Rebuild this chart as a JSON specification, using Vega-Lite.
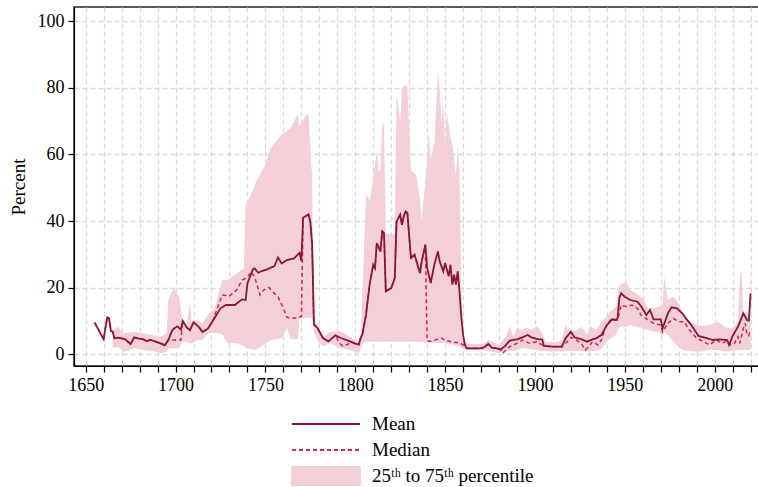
{
  "$schema": "https://vega.github.io/schema/vega-lite/v6.json",
  "width": 685,
  "height": 359,
  "autosize": {"type": "none"},
  "padding": {"left": 74, "top": 7, "right": 0, "bottom": 121},
  "background": "white",
  "config": {
    "font": "Liberation Serif",
    "view": {"stroke": "#222", "strokeWidth": 1.5},
    "axis": {
      "domainColor": "#000", "domainWidth": 1.2,
      "tickColor": "#000", "tickWidth": 1.2, "tickSize": 6,
      "labelFont": "Liberation Serif", "labelFontSize": 18, "labelColor": "#000",
      "titleFont": "Liberation Serif", "titleFontSize": 19, "titleFontWeight": "normal", "titleColor": "#000",
      "gridColor": "#d9d9d9", "gridDash": [5, 3], "gridWidth": 1.3
    },
    "legend": {
      "orient": "none", "legendX": 217, "legendY": 404,
      "title": null, "padding": 0,
      "symbolType": "stroke", "symbolSize": 4624, "symbolStrokeWidth": 1.8,
      "labelFont": "Liberation Serif", "labelFontSize": 19, "labelColor": "#000",
      "labelOffset": 11, "labelLimit": 0, "rowPadding": 0, "clipHeight": 26
    }
  },
  "datasets": {
    "band": [
      {"yr":1665,"lo":1.8,"hi":7.3},{"yr":1668,"lo":2.3,"hi":8.3},{"yr":1671,"lo":0.8,"hi":6.3},{"yr":1674,"lo":1.2,"hi":6.5},
      {"yr":1677,"lo":1.8,"hi":6.8},{"yr":1682,"lo":1.3,"hi":6.3},{"yr":1687,"lo":1.0,"hi":5.8},{"yr":1692,"lo":0.3,"hi":5.3},
      {"yr":1695,"lo":0.8,"hi":6.3},{"yr":1696,"lo":1.8,"hi":16.3},{"yr":1699,"lo":1.8,"hi":20.1},{"yr":1701,"lo":1.8,"hi":18},
      {"yr":1702,"lo":1.8,"hi":17.3},{"yr":1704,"lo":3.8,"hi":9.3},{"yr":1706,"lo":3.8,"hi":8.3},{"yr":1708,"lo":3.3,"hi":15.8},
      {"yr":1709,"lo":3.3,"hi":9.3},{"yr":1712,"lo":4.3,"hi":10.3},{"yr":1715,"lo":4.3,"hi":9.3},{"yr":1718,"lo":6.3,"hi":11.8},
      {"yr":1722,"lo":6.5,"hi":14.3},{"yr":1726,"lo":6,"hi":22.3},{"yr":1729,"lo":3.3,"hi":22.3},{"yr":1734,"lo":3.3,"hi":24.3},
      {"yr":1738,"lo":2.5,"hi":25.8},{"yr":1739,"lo":2,"hi":45},{"yr":1742,"lo":1.5,"hi":48},{"yr":1745,"lo":1.3,"hi":52},
      {"yr":1748,"lo":2.5,"hi":55},{"yr":1750,"lo":3.3,"hi":57},{"yr":1753,"lo":4.3,"hi":62},{"yr":1756,"lo":4.5,"hi":64},
      {"yr":1759,"lo":4.8,"hi":66},{"yr":1762,"lo":8,"hi":67},{"yr":1764,"lo":4.5,"hi":68},{"yr":1766,"lo":4.5,"hi":70},
      {"yr":1768,"lo":4.5,"hi":72},{"yr":1769,"lo":11,"hi":68.3},{"yr":1772,"lo":11,"hi":71.4},{"yr":1774,"lo":11,"hi":72.4},
      {"yr":1775,"lo":11,"hi":62.3},{"yr":1776,"lo":11,"hi":53.3},{"yr":1777,"lo":6.8,"hi":10.8},{"yr":1779,"lo":4,"hi":8.8},
      {"yr":1782,"lo":2.3,"hi":5.3},{"yr":1786,"lo":3.3,"hi":6.8},{"yr":1792,"lo":1.8,"hi":6.9},{"yr":1797,"lo":1.3,"hi":5.3},
      {"yr":1802,"lo":0.3,"hi":3.8},{"yr":1803,"lo":1.5,"hi":6},{"yr":1804,"lo":3,"hi":18.3},{"yr":1806,"lo":3.8,"hi":48.3},
      {"yr":1808,"lo":3.8,"hi":46},{"yr":1809,"lo":3.8,"hi":49.3},{"yr":1812,"lo":3.8,"hi":61.3},{"yr":1813,"lo":3.8,"hi":55},
      {"yr":1814,"lo":3.8,"hi":55.3},{"yr":1815,"lo":3.8,"hi":68.3},{"yr":1816,"lo":3.8,"hi":69.8},{"yr":1817,"lo":3.8,"hi":36.3},
      {"yr":1822,"lo":3.8,"hi":36},{"yr":1823,"lo":3.8,"hi":78.4},{"yr":1825,"lo":3.8,"hi":69.6},{"yr":1826,"lo":3.8,"hi":79.9},
      {"yr":1828,"lo":3.8,"hi":80.9},{"yr":1829,"lo":3.8,"hi":80.4},{"yr":1831,"lo":3.8,"hi":55.3},{"yr":1834,"lo":3.8,"hi":53.8},
      {"yr":1836,"lo":3.8,"hi":46.3},{"yr":1837,"lo":3.8,"hi":40},{"yr":1839,"lo":3.5,"hi":52.3},{"yr":1841,"lo":3.5,"hi":66.4},
      {"yr":1842,"lo":3.5,"hi":58.3},{"yr":1844,"lo":3.5,"hi":63.4},{"yr":1845,"lo":3.5,"hi":73.4},{"yr":1846,"lo":3.5,"hi":85.4},
      {"yr":1847,"lo":3.5,"hi":79.4},{"yr":1848,"lo":3.5,"hi":69.4},{"yr":1849,"lo":3.5,"hi":75.4},{"yr":1850,"lo":3.5,"hi":62.4},
      {"yr":1851,"lo":3,"hi":72.4},{"yr":1853,"lo":3,"hi":65.4},{"yr":1854,"lo":3,"hi":63.4},{"yr":1856,"lo":2.5,"hi":53.3},
      {"yr":1857,"lo":2.5,"hi":62.4},{"yr":1858,"lo":2.5,"hi":55.3},{"yr":1859,"lo":2,"hi":20},{"yr":1860,"lo":1.5,"hi":6.3},
      {"yr":1862,"lo":1.3,"hi":3.1},{"yr":1871,"lo":1.3,"hi":3.1},{"yr":1874,"lo":1,"hi":4.3},{"yr":1880,"lo":0.3,"hi":2.8},
      {"yr":1884,"lo":1,"hi":5.5},{"yr":1886,"lo":1,"hi":8.5},{"yr":1888,"lo":1,"hi":5.3},{"yr":1890,"lo":1.2,"hi":7.8},
      {"yr":1893,"lo":1.8,"hi":7.3},{"yr":1895,"lo":1.8,"hi":8.1},{"yr":1898,"lo":1.5,"hi":7.3},{"yr":1901,"lo":1.3,"hi":8.5},
      {"yr":1904,"lo":1,"hi":6.3},{"yr":1906,"lo":1,"hi":3.8},{"yr":1912,"lo":0.8,"hi":3.6},{"yr":1915,"lo":1,"hi":4.3},
      {"yr":1917,"lo":1,"hi":8.8},{"yr":1919,"lo":1,"hi":6.8},{"yr":1923,"lo":1,"hi":7.3},{"yr":1926,"lo":1,"hi":8.3},
      {"yr":1929,"lo":1,"hi":5.8},{"yr":1931,"lo":1,"hi":8.5},{"yr":1934,"lo":1,"hi":7.3},{"yr":1937,"lo":1.5,"hi":9.8},
      {"yr":1940,"lo":3.8,"hi":11.3},{"yr":1942,"lo":4.8,"hi":12.8},{"yr":1945,"lo":5.8,"hi":14.3},{"yr":1947,"lo":8.3,"hi":20.8},
      {"yr":1951,"lo":8.3,"hi":21.8},{"yr":1953,"lo":8.8,"hi":19.3},{"yr":1956,"lo":8.3,"hi":18.3},{"yr":1960,"lo":7.8,"hi":16.8},
      {"yr":1963,"lo":7.3,"hi":13.8},{"yr":1966,"lo":6.8,"hi":13.8},{"yr":1969,"lo":6.8,"hi":14.3},{"yr":1971,"lo":5.3,"hi":14.8},
      {"yr":1972,"lo":6.8,"hi":23.3},{"yr":1974,"lo":5.8,"hi":16.3},{"yr":1977,"lo":3.8,"hi":17.3},{"yr":1980,"lo":2.3,"hi":15.3},
      {"yr":1982,"lo":1.3,"hi":12.3},{"yr":1986,"lo":1,"hi":9.8},{"yr":1992,"lo":0.8,"hi":8.5},{"yr":1997,"lo":1.3,"hi":8.8},
      {"yr":2002,"lo":1.3,"hi":9.8},{"yr":2006,"lo":0.8,"hi":8.1},{"yr":2010,"lo":1,"hi":7.8},{"yr":2013,"lo":1.3,"hi":10},
      {"yr":2014,"lo":1.3,"hi":23.3},{"yr":2015,"lo":1.3,"hi":25.3},{"yr":2016,"lo":1.3,"hi":11.3},{"yr":2018,"lo":1.3,"hi":13.3},
      {"yr":2019,"lo":1.3,"hi":8},{"yr":2020,"lo":1.3,"hi":28}
    ],
    "mean": [
      {"s":"Mean","yr":1655,"v":9.5},{"s":"Mean","yr":1657,"v":7.5},{"s":"Mean","yr":1660,"v":4.5},{"s":"Mean","yr":1661,"v":8},
      {"s":"Mean","yr":1662,"v":11.1},{"s":"Mean","yr":1663,"v":10.8},{"s":"Mean","yr":1664,"v":7},{"s":"Mean","yr":1665,"v":6.8},
      {"s":"Mean","yr":1666,"v":4.8},{"s":"Mean","yr":1668,"v":5},{"s":"Mean","yr":1670,"v":4.8},{"s":"Mean","yr":1672,"v":4.5},
      {"s":"Mean","yr":1675,"v":3.1},{"s":"Mean","yr":1677,"v":5.1},{"s":"Mean","yr":1679,"v":4.8},{"s":"Mean","yr":1682,"v":4.5},
      {"s":"Mean","yr":1684,"v":4},{"s":"Mean","yr":1686,"v":4.3},{"s":"Mean","yr":1688,"v":4},{"s":"Mean","yr":1690,"v":3.6},
      {"s":"Mean","yr":1692,"v":3.2},{"s":"Mean","yr":1694,"v":2.7},{"s":"Mean","yr":1696,"v":4.3},{"s":"Mean","yr":1698,"v":7},
      {"s":"Mean","yr":1699,"v":7.7},{"s":"Mean","yr":1701,"v":8.4},{"s":"Mean","yr":1703,"v":7.4},{"s":"Mean","yr":1704,"v":10},
      {"s":"Mean","yr":1706,"v":8.2},{"s":"Mean","yr":1708,"v":7.2},{"s":"Mean","yr":1710,"v":9.6},{"s":"Mean","yr":1713,"v":8.2},
      {"s":"Mean","yr":1715,"v":6.7},{"s":"Mean","yr":1718,"v":7.7},{"s":"Mean","yr":1721,"v":10.3},{"s":"Mean","yr":1723,"v":12},
      {"s":"Mean","yr":1725,"v":13.8},{"s":"Mean","yr":1728,"v":14.8},{"s":"Mean","yr":1733,"v":14.8},{"s":"Mean","yr":1737,"v":16.5},
      {"s":"Mean","yr":1739,"v":16.3},{"s":"Mean","yr":1740,"v":21.3},{"s":"Mean","yr":1743,"v":25.5},{"s":"Mean","yr":1744,"v":25.8},
      {"s":"Mean","yr":1746,"v":24.5},{"s":"Mean","yr":1748,"v":25},{"s":"Mean","yr":1751,"v":25.5},{"s":"Mean","yr":1755,"v":26.5},
      {"s":"Mean","yr":1757,"v":29.1},{"s":"Mean","yr":1759,"v":27.3},{"s":"Mean","yr":1762,"v":28.3},{"s":"Mean","yr":1766,"v":28.8},
      {"s":"Mean","yr":1769,"v":30.5},{"s":"Mean","yr":1770,"v":28},{"s":"Mean","yr":1771,"v":41},{"s":"Mean","yr":1774,"v":42},
      {"s":"Mean","yr":1775,"v":39.8},{"s":"Mean","yr":1776,"v":33},{"s":"Mean","yr":1777,"v":9},{"s":"Mean","yr":1779,"v":7.9},
      {"s":"Mean","yr":1782,"v":4.9},{"s":"Mean","yr":1785,"v":3.9},{"s":"Mean","yr":1789,"v":5.7},{"s":"Mean","yr":1792,"v":4.9},
      {"s":"Mean","yr":1797,"v":3.9},{"s":"Mean","yr":1800,"v":3.2},{"s":"Mean","yr":1802,"v":2.9},{"s":"Mean","yr":1803,"v":4.9},
      {"s":"Mean","yr":1804,"v":6},{"s":"Mean","yr":1806,"v":11.9},{"s":"Mean","yr":1808,"v":20.9},{"s":"Mean","yr":1810,"v":26.9},
      {"s":"Mean","yr":1811,"v":25.9},{"s":"Mean","yr":1812,"v":33.4},{"s":"Mean","yr":1814,"v":30.9},{"s":"Mean","yr":1815,"v":36.9},
      {"s":"Mean","yr":1816,"v":36.4},{"s":"Mean","yr":1817,"v":18.9},{"s":"Mean","yr":1820,"v":19.9},{"s":"Mean","yr":1822,"v":22.9},
      {"s":"Mean","yr":1823,"v":39.9},{"s":"Mean","yr":1825,"v":41.9},{"s":"Mean","yr":1826,"v":38.9},{"s":"Mean","yr":1827,"v":41.5},
      {"s":"Mean","yr":1828,"v":42.9},{"s":"Mean","yr":1829,"v":42.5},{"s":"Mean","yr":1831,"v":28.9},{"s":"Mean","yr":1833,"v":29.9},
      {"s":"Mean","yr":1836,"v":24.4},{"s":"Mean","yr":1837,"v":27.9},{"s":"Mean","yr":1839,"v":32.9},{"s":"Mean","yr":1840,"v":25.9},
      {"s":"Mean","yr":1842,"v":21.4},{"s":"Mean","yr":1844,"v":26.9},{"s":"Mean","yr":1846,"v":30.9},{"s":"Mean","yr":1847,"v":27.9},
      {"s":"Mean","yr":1849,"v":24.9},{"s":"Mean","yr":1850,"v":27.4},{"s":"Mean","yr":1852,"v":23.4},{"s":"Mean","yr":1853,"v":26.9},
      {"s":"Mean","yr":1854,"v":20.9},{"s":"Mean","yr":1855,"v":23.9},{"s":"Mean","yr":1856,"v":20.9},{"s":"Mean","yr":1857,"v":24.9},
      {"s":"Mean","yr":1858,"v":18.9},{"s":"Mean","yr":1859,"v":11.3},{"s":"Mean","yr":1860,"v":5.9},{"s":"Mean","yr":1861,"v":2.8},
      {"s":"Mean","yr":1862,"v":1.8},{"s":"Mean","yr":1866,"v":1.8},{"s":"Mean","yr":1870,"v":1.8},{"s":"Mean","yr":1872,"v":2.2},
      {"s":"Mean","yr":1874,"v":3.1},{"s":"Mean","yr":1876,"v":2},{"s":"Mean","yr":1879,"v":1.8},{"s":"Mean","yr":1881,"v":1.5},
      {"s":"Mean","yr":1883,"v":2.3},{"s":"Mean","yr":1886,"v":4.1},{"s":"Mean","yr":1890,"v":4.5},{"s":"Mean","yr":1893,"v":5.1},
      {"s":"Mean","yr":1896,"v":5.8},{"s":"Mean","yr":1898,"v":5.1},{"s":"Mean","yr":1902,"v":4.5},{"s":"Mean","yr":1904,"v":4.5},
      {"s":"Mean","yr":1905,"v":2.5},{"s":"Mean","yr":1910,"v":2.3},{"s":"Mean","yr":1915,"v":2.3},{"s":"Mean","yr":1917,"v":4.8},
      {"s":"Mean","yr":1920,"v":6.8},{"s":"Mean","yr":1922,"v":5.1},{"s":"Mean","yr":1926,"v":4.5},{"s":"Mean","yr":1929,"v":3.8},
      {"s":"Mean","yr":1932,"v":4.5},{"s":"Mean","yr":1934,"v":4.8},{"s":"Mean","yr":1937,"v":5.8},{"s":"Mean","yr":1940,"v":8.8},
      {"s":"Mean","yr":1943,"v":10.5},{"s":"Mean","yr":1945,"v":10.3},{"s":"Mean","yr":1946,"v":10.8},{"s":"Mean","yr":1947,"v":17},
      {"s":"Mean","yr":1948,"v":18.3},{"s":"Mean","yr":1950,"v":17.3},{"s":"Mean","yr":1953,"v":16.3},{"s":"Mean","yr":1957,"v":15.8},
      {"s":"Mean","yr":1959,"v":14.5},{"s":"Mean","yr":1962,"v":11.8},{"s":"Mean","yr":1964,"v":13.3},{"s":"Mean","yr":1966,"v":10.5},
      {"s":"Mean","yr":1970,"v":10.5},{"s":"Mean","yr":1971,"v":7.8},{"s":"Mean","yr":1974,"v":12.3},{"s":"Mean","yr":1976,"v":14.1},
      {"s":"Mean","yr":1979,"v":13.8},{"s":"Mean","yr":1982,"v":12.3},{"s":"Mean","yr":1984,"v":10.8},{"s":"Mean","yr":1987,"v":8.8},
      {"s":"Mean","yr":1991,"v":5.5},{"s":"Mean","yr":1996,"v":4.8},{"s":"Mean","yr":1999,"v":4.3},{"s":"Mean","yr":2003,"v":4.5},
      {"s":"Mean","yr":2007,"v":4.3},{"s":"Mean","yr":2008,"v":2.8},{"s":"Mean","yr":2010,"v":5.5},{"s":"Mean","yr":2013,"v":8.3},
      {"s":"Mean","yr":2016,"v":12.3},{"s":"Mean","yr":2018,"v":10.3},{"s":"Mean","yr":2019,"v":10.1},{"s":"Mean","yr":2020,"v":18.3}
    ],
    "median": [
      {"s":"Median","yr":1655,"v":9.5},{"s":"Median","yr":1657,"v":7.5},{"s":"Median","yr":1660,"v":4.5},{"s":"Median","yr":1661,"v":8},
      {"s":"Median","yr":1662,"v":11.1},{"s":"Median","yr":1663,"v":10.8},{"s":"Median","yr":1664,"v":7},{"s":"Median","yr":1665,"v":6.8},
      {"s":"Median","yr":1666,"v":4.8},{"s":"Median","yr":1668,"v":5},{"s":"Median","yr":1670,"v":4.8},{"s":"Median","yr":1672,"v":4.5},
      {"s":"Median","yr":1675,"v":3.1},{"s":"Median","yr":1677,"v":5.1},{"s":"Median","yr":1679,"v":4.8},{"s":"Median","yr":1682,"v":4.5},
      {"s":"Median","yr":1684,"v":4},{"s":"Median","yr":1686,"v":4.3},{"s":"Median","yr":1688,"v":4},{"s":"Median","yr":1690,"v":3.6},
      {"s":"Median","yr":1692,"v":3.2},{"s":"Median","yr":1694,"v":2.7},{"s":"Median","yr":1696,"v":4.3},{"s":"Median","yr":1697,"v":4.3},
      {"s":"Median","yr":1700,"v":4.3},{"s":"Median","yr":1703,"v":4.3},{"s":"Median","yr":1704,"v":10},{"s":"Median","yr":1706,"v":8.2},
      {"s":"Median","yr":1708,"v":7.2},{"s":"Median","yr":1710,"v":9.6},{"s":"Median","yr":1713,"v":8.2},{"s":"Median","yr":1715,"v":6.7},
      {"s":"Median","yr":1718,"v":7.7},{"s":"Median","yr":1721,"v":10.3},{"s":"Median","yr":1722,"v":12},{"s":"Median","yr":1724,"v":15},
      {"s":"Median","yr":1726,"v":17.8},{"s":"Median","yr":1730,"v":17.5},{"s":"Median","yr":1734,"v":19.3},{"s":"Median","yr":1737,"v":22.3},
      {"s":"Median","yr":1740,"v":23.1},{"s":"Median","yr":1742,"v":24.8},{"s":"Median","yr":1744,"v":23.3},{"s":"Median","yr":1747,"v":17.8},
      {"s":"Median","yr":1749,"v":19.3},{"s":"Median","yr":1752,"v":20.1},{"s":"Median","yr":1754,"v":18.8},{"s":"Median","yr":1757,"v":17.3},
      {"s":"Median","yr":1760,"v":13.8},{"s":"Median","yr":1762,"v":11.1},{"s":"Median","yr":1766,"v":10.8},{"s":"Median","yr":1770,"v":11.3},
      {"s":"Median","yr":1771,"v":41},{"s":"Median","yr":1774,"v":42},{"s":"Median","yr":1775,"v":39.8},{"s":"Median","yr":1776,"v":33},
      {"s":"Median","yr":1777,"v":9},{"s":"Median","yr":1779,"v":7.9},{"s":"Median","yr":1782,"v":4.9},{"s":"Median","yr":1785,"v":3.9},
      {"s":"Median","yr":1789,"v":5.7},{"s":"Median","yr":1791,"v":3.5},{"s":"Median","yr":1793,"v":2.5},{"s":"Median","yr":1796,"v":3},
      {"s":"Median","yr":1797,"v":3.9},{"s":"Median","yr":1800,"v":3.2},{"s":"Median","yr":1802,"v":2.9},{"s":"Median","yr":1803,"v":4.9},
      {"s":"Median","yr":1804,"v":6},{"s":"Median","yr":1806,"v":11.9},{"s":"Median","yr":1808,"v":20.9},{"s":"Median","yr":1810,"v":26.9},
      {"s":"Median","yr":1811,"v":25.9},{"s":"Median","yr":1812,"v":33.4},{"s":"Median","yr":1814,"v":30.9},{"s":"Median","yr":1815,"v":36.9},
      {"s":"Median","yr":1816,"v":36.4},{"s":"Median","yr":1817,"v":18.9},{"s":"Median","yr":1820,"v":19.9},{"s":"Median","yr":1822,"v":22.9},
      {"s":"Median","yr":1823,"v":39.9},{"s":"Median","yr":1825,"v":41.9},{"s":"Median","yr":1826,"v":38.9},{"s":"Median","yr":1827,"v":41.5},
      {"s":"Median","yr":1828,"v":42.9},{"s":"Median","yr":1829,"v":42.5},{"s":"Median","yr":1831,"v":28.9},{"s":"Median","yr":1833,"v":29.9},
      {"s":"Median","yr":1836,"v":24.4},{"s":"Median","yr":1837,"v":27.9},{"s":"Median","yr":1839,"v":32.9},{"s":"Median","yr":1840,"v":4},
      {"s":"Median","yr":1842,"v":3.9},{"s":"Median","yr":1845,"v":4.4},{"s":"Median","yr":1848,"v":4.9},{"s":"Median","yr":1850,"v":4.2},
      {"s":"Median","yr":1854,"v":3.7},{"s":"Median","yr":1858,"v":3.4},{"s":"Median","yr":1860,"v":2.8},{"s":"Median","yr":1862,"v":1.8},
      {"s":"Median","yr":1866,"v":1.8},{"s":"Median","yr":1870,"v":1.8},{"s":"Median","yr":1872,"v":2.2},{"s":"Median","yr":1874,"v":3.1},
      {"s":"Median","yr":1876,"v":2},{"s":"Median","yr":1879,"v":1.8},{"s":"Median","yr":1881,"v":1.2},{"s":"Median","yr":1882,"v":0.3},
      {"s":"Median","yr":1886,"v":2.3},{"s":"Median","yr":1890,"v":3.3},{"s":"Median","yr":1893,"v":4.3},{"s":"Median","yr":1897,"v":3.3},
      {"s":"Median","yr":1901,"v":3.8},{"s":"Median","yr":1905,"v":2.5},{"s":"Median","yr":1910,"v":2.3},{"s":"Median","yr":1915,"v":2.3},
      {"s":"Median","yr":1918,"v":3.8},{"s":"Median","yr":1920,"v":5.1},{"s":"Median","yr":1923,"v":4.3},{"s":"Median","yr":1926,"v":3.1},
      {"s":"Median","yr":1928,"v":1.3},{"s":"Median","yr":1930,"v":2.3},{"s":"Median","yr":1932,"v":3.8},{"s":"Median","yr":1935,"v":2.8},
      {"s":"Median","yr":1937,"v":4.3},{"s":"Median","yr":1939,"v":7.8},{"s":"Median","yr":1942,"v":10.3},{"s":"Median","yr":1946,"v":10.3},
      {"s":"Median","yr":1948,"v":14.8},{"s":"Median","yr":1951,"v":14.3},{"s":"Median","yr":1954,"v":14.8},{"s":"Median","yr":1957,"v":13.8},
      {"s":"Median","yr":1959,"v":11.8},{"s":"Median","yr":1963,"v":10.3},{"s":"Median","yr":1966,"v":9.3},{"s":"Median","yr":1970,"v":8.8},
      {"s":"Median","yr":1971,"v":6.8},{"s":"Median","yr":1974,"v":9.3},{"s":"Median","yr":1977,"v":10.8},{"s":"Median","yr":1980,"v":9.8},
      {"s":"Median","yr":1983,"v":9.8},{"s":"Median","yr":1986,"v":7.3},{"s":"Median","yr":1990,"v":4.8},{"s":"Median","yr":1994,"v":3.8},
      {"s":"Median","yr":1997,"v":2.8},{"s":"Median","yr":2001,"v":4.3},{"s":"Median","yr":2004,"v":3.3},{"s":"Median","yr":2007,"v":4.1},
      {"s":"Median","yr":2009,"v":2.8},{"s":"Median","yr":2011,"v":3.3},{"s":"Median","yr":2013,"v":5.3},{"s":"Median","yr":2014,"v":3.3},
      {"s":"Median","yr":2016,"v":7.8},{"s":"Median","yr":2017,"v":9.3},{"s":"Median","yr":2018,"v":5.8},{"s":"Median","yr":2019,"v":5.6},
      {"s":"Median","yr":2020,"v":7.3}
    ]
  },
  "layer": [
    {
      "data": {"name": "band"},
      "mark": {"type": "area", "opacity": 1},
      "encoding": {
        "x": {
          "field": "yr", "type": "quantitative", "title": null,
          "scale": {"domain": [1643.49, 2024.68], "nice": false, "zero": false},
          "axis": {
            "title": null, "format": "d", "grid": true, "tickCount": 200,
            "values": [1650,1660,1670,1680,1690,1700,1710,1720,1730,1740,1750,1760,1770,1780,1790,1800,1810,1820,1830,1840,1850,1860,1870,1880,1890,1900,1910,1920,1930,1940,1950,1960,1970,1980,1990,2000,2010,2020],
            "labelExpr": "datum.value % 50 === 0 ? datum.label : ''",
            "labelPadding": 4, "labelFlush": false, "labelOverlap": false
          }
        },
        "y": {
          "field": "lo", "type": "quantitative", "title": "Percent",
          "scale": {"domain": [-3.51, 104.29], "nice": false, "zero": false},
          "axis": {
            "title": "Percent", "titlePadding": 9, "labelPadding": 4, "grid": true, "tickCount": 20,
            "values": [0, 20, 40, 60, 80, 100]
          }
        },
        "y2": {"field": "hi"},
        "color": {
          "datum": "25ᵗʰ to 75ᵗʰ percentile",
          "type": "nominal",
          "title": null,
          "scale": {
            "domain": ["Mean", "Median", "25ᵗʰ to 75ᵗʰ percentile"],
            "range": ["#8a1538", "#d1245a", "#f3d0d8"]
          },
          "legend": {
            "title": null,
            "encode": {
              "symbols": {
                "update": {
                  "shape": {"signal": "datum.value === 'Mean' || datum.value === 'Median' ? 'stroke' : 'M-1,-0.265L1,-0.265L1,0.265L-1,0.265Z'"},
                  "strokeDash": {"signal": "datum.value === 'Median' ? [4, 3] : [1, 0]"},
                  "fill": {"signal": "datum.value === 'Mean' || datum.value === 'Median' ? 'transparent' : '#f3d0d8'"},
                  "stroke": {"signal": "datum.value === 'Mean' ? '#8a1538' : (datum.value === 'Median' ? '#d1245a' : 'transparent')"},
                  "strokeWidth": {"value": 1.8},
                  "opacity": {"value": 1}
                }
              }
            }
          }
        }
      }
    },
    {
      "data": {"name": "median"},
      "mark": {"type": "line", "strokeWidth": 1.5, "strokeDash": [4, 3]},
      "encoding": {
        "x": {"field": "yr", "type": "quantitative", "title": null},
        "y": {"field": "v", "type": "quantitative", "title": "Percent"},
        "color": {
          "field": "s", "type": "nominal", "title": null,
          "legend": {
            "title": null,
            "encode": {
              "symbols": {
                "update": {
                  "shape": {"signal": "datum.value === 'Mean' || datum.value === 'Median' ? 'stroke' : 'M-1,-0.265L1,-0.265L1,0.265L-1,0.265Z'"},
                  "strokeDash": {"signal": "datum.value === 'Median' ? [4, 3] : [1, 0]"},
                  "fill": {"signal": "datum.value === 'Mean' || datum.value === 'Median' ? 'transparent' : '#f3d0d8'"},
                  "stroke": {"signal": "datum.value === 'Mean' ? '#8a1538' : (datum.value === 'Median' ? '#d1245a' : 'transparent')"},
                  "strokeWidth": {"value": 1.8},
                  "opacity": {"value": 1}
                }
              }
            }
          }
        }
      }
    },
    {
      "data": {"name": "mean"},
      "mark": {"type": "line", "strokeWidth": 1.8},
      "encoding": {
        "x": {"field": "yr", "type": "quantitative", "title": null},
        "y": {"field": "v", "type": "quantitative", "title": "Percent"},
        "color": {
          "field": "s", "type": "nominal", "title": null,
          "legend": {
            "title": null,
            "encode": {
              "symbols": {
                "update": {
                  "shape": {"signal": "datum.value === 'Mean' || datum.value === 'Median' ? 'stroke' : 'M-1,-0.265L1,-0.265L1,0.265L-1,0.265Z'"},
                  "strokeDash": {"signal": "datum.value === 'Median' ? [4, 3] : [1, 0]"},
                  "fill": {"signal": "datum.value === 'Mean' || datum.value === 'Median' ? 'transparent' : '#f3d0d8'"},
                  "stroke": {"signal": "datum.value === 'Mean' ? '#8a1538' : (datum.value === 'Median' ? '#d1245a' : 'transparent')"},
                  "strokeWidth": {"value": 1.8},
                  "opacity": {"value": 1}
                }
              }
            }
          }
        }
      }
    }
  ]
}
